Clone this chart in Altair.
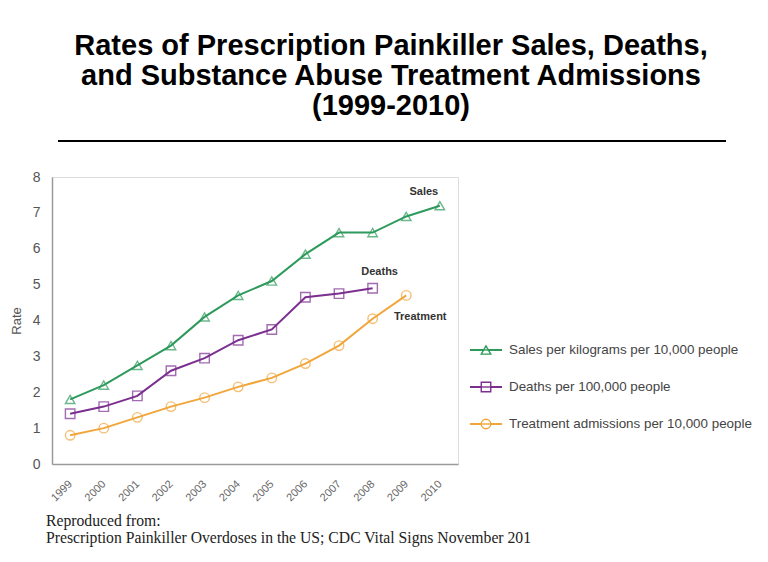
import altair as alt
import pandas as pd

years = ["1999", "2000", "2001", "2002", "2003", "2004", "2005", "2006", "2007", "2008", "2009", "2010"]
sales = [1.8, 2.2, 2.75, 3.3, 4.1, 4.7, 5.1, 5.85, 6.45, 6.45, 6.9, 7.2]
deaths = [1.4, 1.6, 1.9, 2.6, 2.95, 3.45, 3.75, 4.65, 4.75, 4.9]
treatment = [0.8, 1.0, 1.3, 1.6, 1.85, 2.15, 2.4, 2.8, 3.3, 4.05, 4.7]

series_names = [
    "Sales per kilograms per 10,000 people",
    "Deaths per 100,000 people",
    "Treatment admissions per 10,000 people",
]
series_colors = ["#2e9a5c", "#7b2f8f", "#f0a63a"]
series_shapes = ["triangle-up", "square", "circle"]
short_labels = ["Sales", "Deaths", "Treatment"]

title_lines = [
    "Rates of Prescription Painkiller Sales, Deaths,",
    "and Substance Abuse Treatment Admissions",
    "(1999-2010)",
]
caption = "Reproduced from:\nPrescription Painkiller Overdoses in the US; CDC Vital Signs November 201"

rows = []
for name, vals in zip(series_names, [sales, deaths, treatment]):
    for y, v in zip(years, vals):
        rows.append({"year": y, "rate": v, "series": name})
df = pd.DataFrame(rows)
leg_df = pd.DataFrame({"series": series_names})

W, H = 406, 287

xenc = alt.X("year:O", scale=alt.Scale(type="point", padding=0.54),
             axis=alt.Axis(title=None, labelAngle=-45, labelAlign="right", labelBaseline="middle",
                           ticks=False, labelPadding=18, labelFontSize=11, labelColor="#666",
                           domainColor="#9a9a9a", domainWidth=1.5, labelFont="Liberation Sans"))
yenc = alt.Y("rate:Q", scale=alt.Scale(domain=[0, 8], nice=False),
             axis=alt.Axis(title="Rate", values=list(range(0, 9)), ticks=False, grid=False,
                           labelOverlap=False, labelFontSize=14, labelColor="#555", labelPadding=12,
                           domainColor="#9a9a9a", domainWidth=1.5, titleFontSize=13,
                           titleColor="#555", titleFontWeight="normal", titlePadding=9,
                           labelFont="Liberation Sans", titleFont="Liberation Sans"))

sscale = alt.Scale(domain=series_names, range=series_colors)
shscale = alt.Scale(domain=series_names, range=series_shapes)

lines = alt.Chart(df).mark_line(strokeWidth=2).encode(
    x=xenc, y=yenc,
    stroke=alt.Stroke("series:N", scale=sscale, sort=series_names, legend=None),
)

points = alt.Chart(df).mark_point(filled=False, size=90, strokeWidth=1.4).encode(
    x=xenc, y=yenc,
    stroke=alt.Stroke("series:N", scale=sscale, sort=series_names, legend=None),
    shape=alt.Shape("series:N", scale=shscale, sort=series_names, legend=None),
)

ann_df = pd.DataFrame({
    "year": ["2010", "2008", "2009"],
    "rate": [sales[-1], deaths[-1], treatment[-1]],
    "label": short_labels,
})
ann_base = alt.Chart(ann_df)
ann_sales = ann_base.transform_filter(alt.datum.label == "Sales").mark_text(
    font="Liberation Sans", fontWeight="bold", fontSize=11, color="#333", dx=-16, dy=-14).encode(
    x=xenc, y=yenc, text="label:N")
ann_deaths = ann_base.transform_filter(alt.datum.label == "Deaths").mark_text(
    font="Liberation Sans", fontWeight="bold", fontSize=11, color="#333", dx=7, dy=-16).encode(
    x=xenc, y=yenc, text="label:N")
ann_treat = ann_base.transform_filter(alt.datum.label == "Treatment").mark_text(
    font="Liberation Sans", fontWeight="bold", fontSize=11, color="#333", dx=14, dy=22).encode(
    x=xenc, y=yenc, text="label:N")

rule = alt.Chart(pd.DataFrame({"a": [0]})).mark_rule(color="black", strokeWidth=2).encode(
    x=alt.value(6), x2=alt.value(674), y=alt.value(-36))

cap = alt.Chart(pd.DataFrame({"t": [caption]})).mark_text(
    align="left", baseline="middle", font="Liberation Serif", fontSize=15.7, color="#222",
    lineBreak="\n", lineHeight=17).encode(
    x=alt.value(-6), y=alt.value(344), text="t:N")

main = alt.layer(lines, points, ann_sales, ann_deaths, ann_treat, rule, cap)

# legend drawn as marks: one row per series
ly = alt.Y("series:N", sort=series_names,
           scale=alt.Scale(type="point", domain=series_names, range=[173, 247], padding=0),
           axis=None)
leg_base = alt.Chart(leg_df)
leg_line = leg_base.mark_rule(strokeWidth=2).encode(
    x=alt.value(418), x2=alt.value(450), y=ly,
    stroke=alt.Stroke("series:N", scale=sscale, sort=series_names, legend=None))
leg_pt = leg_base.mark_point(filled=False, size=90, strokeWidth=1.4, fill="white", fillOpacity=1).encode(
    x=alt.value(434), y=ly,
    stroke=alt.Stroke("series:N", scale=sscale, sort=series_names, legend=None),
    shape=alt.Shape("series:N", scale=shscale, sort=series_names, legend=None))
leg_pt2 = leg_base.mark_rule(strokeWidth=1.4).encode(
    x=alt.value(428), x2=alt.value(440), y=ly,
    stroke=alt.Stroke("series:N", scale=sscale, sort=series_names, legend=None))
leg_txt = leg_base.mark_text(align="left", baseline="middle", font="Liberation Sans", fontSize=13.4,
                             color="#444").encode(x=alt.value(457), y=ly, text="series:N")
legend = alt.layer(leg_line, leg_pt, leg_pt2, leg_txt)

chart = alt.layer(main, legend).resolve_scale(y="independent").properties(
    title=alt.TitleParams(title_lines, fontSize=29, font="Liberation Sans", fontWeight="bold",
                          color="black", anchor="middle", dx=136, offset=19, lineHeight=30),
    width=W, height=H,
    autosize=alt.AutoSizeParams(type="none"),
    padding={"left": 44, "top": 169, "right": 302, "bottom": 90},
).configure_view(stroke=None).configure(background="white")

chart.save("out.html", embed_options={"renderer": "svg", "actions": False})
